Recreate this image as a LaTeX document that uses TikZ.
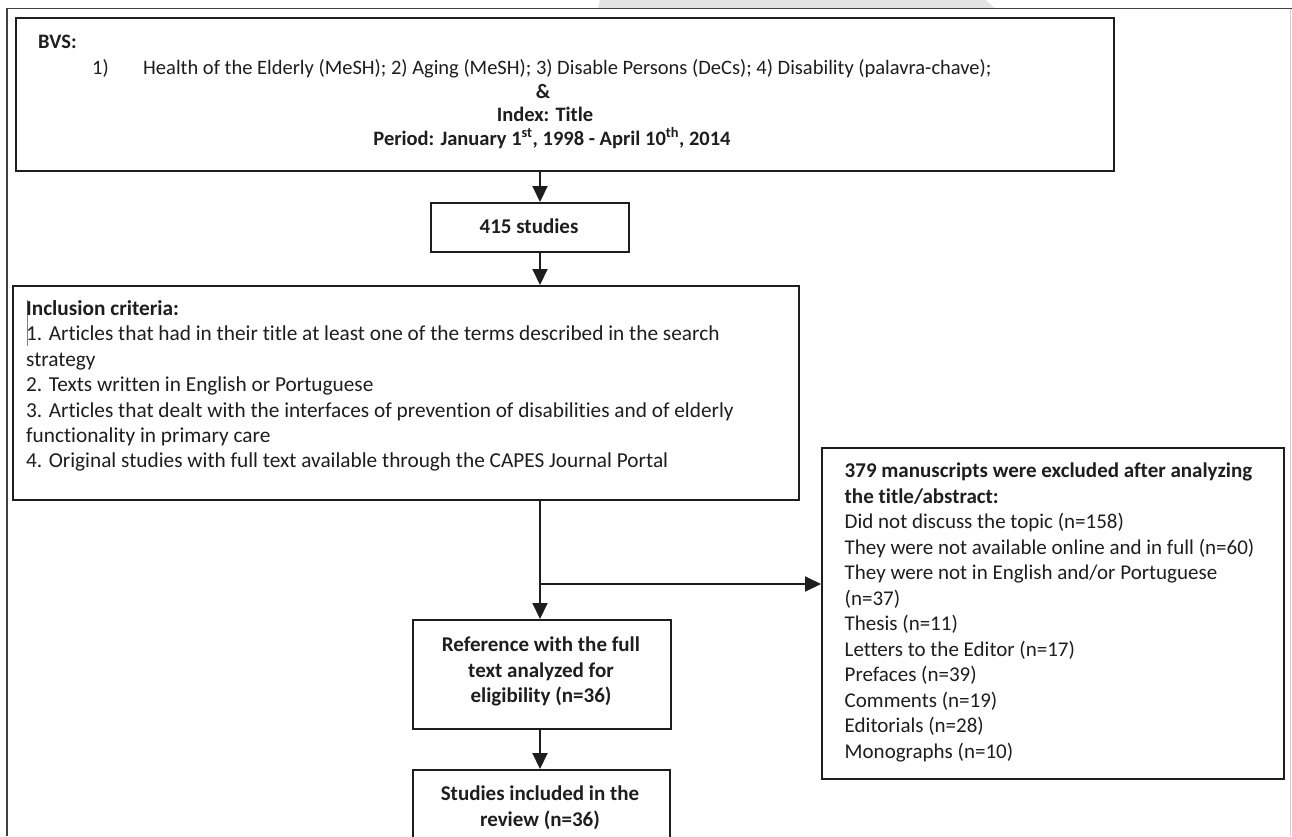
\documentclass[tikz,border=0pt]{standalone}
\usepackage{fontspec}
\setmainfont[Ligatures=NoCommon]{Carlito}
\usetikzlibrary{arrows.meta}
\definecolor{ink}{HTML}{1E1E1E}
\tikzset{
  box/.style={draw=ink, line width=2.2pt, fill=white, inner sep=0pt, anchor=north west},
  conn/.style={draw=ink, line width=2pt, -{Triangle[length=16pt,width=15pt]}},
  txt/.style={inner sep=0pt, text=ink, font=\fontsize{21}{25.5}\selectfont},
  txtB/.style={inner sep=0pt, text=ink, font=\fontsize{21.3}{25.4}\selectfont},
  txtA/.style={inner sep=0pt, text=ink, font=\fontsize{20.5}{24}\selectfont},
}
\begin{document}
\begin{tikzpicture}[x=1pt,y=-1pt]
\useasboundingbox (0,0) rectangle (1292,836);
\fill[white] (0,0) rectangle (1292,836);
% watermark shape at top
\fill[gray!22] (600,0) -- (986,0) -- (994,8) -- (598,8) -- cycle;
% outer frame
\draw[ink!85, line width=1.2pt] (7,836) -- (7,8.5) -- (1292,8.5);
\draw[gray!35, line width=1pt] (1290,8.5) -- (1290,836);

% boxes
\node[box, minimum width=1098pt, minimum height=153pt] (b1) at (15,17) {};
\node[box, minimum width=198pt, minimum height=48.5pt] (b2) at (430,202) {};
\node[box, minimum width=786pt, minimum height=213.5pt] (b3) at (12,285) {};
\node[box, minimum width=258pt, minimum height=109pt] (b4) at (412,619) {};
\node[box, minimum width=257pt, minimum height=95pt] (b5) at (412,769) {};
\node[box, minimum width=462pt, minimum height=331pt] (b6) at (821,447) {};

% connectors
\coordinate (cx) at (540,0);
\coordinate (br) at (540,584);
\draw[conn] (b1.south -| cx) -- (b2.north -| cx);
\draw[conn] (b2.south -| cx) -- (b3.north -| cx);
\draw[conn] (b3.south -| cx) -- (b4.north -| cx);
\draw[conn] (br) -- (br -| b6.west);
\draw[conn] (b4.south -| cx) -- (b5.north -| cx);

% box 1 text
\node[txtA, anchor=base west] (bvs) at (38,48.5) {\bfseries BVS:};
\node[txtA, anchor=base west] (n1) at (92,74) {1)};
\node[txtA, anchor=base west] (terms) at (143,74) {Health of the Elderly (MeSH); 2) Aging (MeSH); 3) Disable Persons (DeCs); 4) Disability (palavra-chave);};
\node[txtA, anchor=base] (amp) at (543,98) {\bfseries \&};
\node[txtA, anchor=base] (idx) at (545,121.5) {\bfseries Index: Title};
\node[txtA, anchor=base] (per) at (552,145) {\bfseries Period: January 1\textsuperscript{st}, 1998 - April 10\textsuperscript{th}, 2014};

% box 2 text
\node[txt, anchor=base] (s415) at (529,233) {\bfseries 415 studies};

% box 3 text
\draw[gray, line width=0.8pt] (27,300) -- (27,346);
\node[txtB, anchor=base west] (inc) at (26,315.5) {\parbox[t]{770pt}{\raggedright
{\bfseries Inclusion criteria:}\\
1. Articles that had in their title at least one of the terms described in the search\\
strategy\\
2. Texts written in English or Portuguese\\
3. Articles that dealt with the interfaces of prevention of disabilities and of elderly\\
functionality in primary care\\
4. Original studies with full text available through the CAPES Journal Portal}};

% box 4 and 5 text
\node[txt, anchor=base] (ref) at (541,651.5) {\parbox[t]{250pt}{\centering\bfseries
Reference with the full\\text analyzed for\\eligibility (n=36)}};
\node[txt, anchor=base] (inc2) at (540,800.7) {\parbox[t]{250pt}{\centering\bfseries
Studies included in the\\review (n=36)}};

% right box text
\node[txt, anchor=base west] (exc) at (844.5,477.5) {\parbox[t]{435pt}{\raggedright
{\bfseries 379 manuscripts were excluded after analyzing\\the title/abstract:}\\
Did not discuss the topic (n=158)\\
They were not available online and in full (n=60)\\
They were not in English and/or Portuguese\\
(n=37)\\
Thesis (n=11)\\
Letters to the Editor (n=17)\\
Prefaces (n=39)\\
Comments (n=19)\\
Editorials (n=28)\\
Monographs (n=10)}};
\end{tikzpicture}
\end{document}
